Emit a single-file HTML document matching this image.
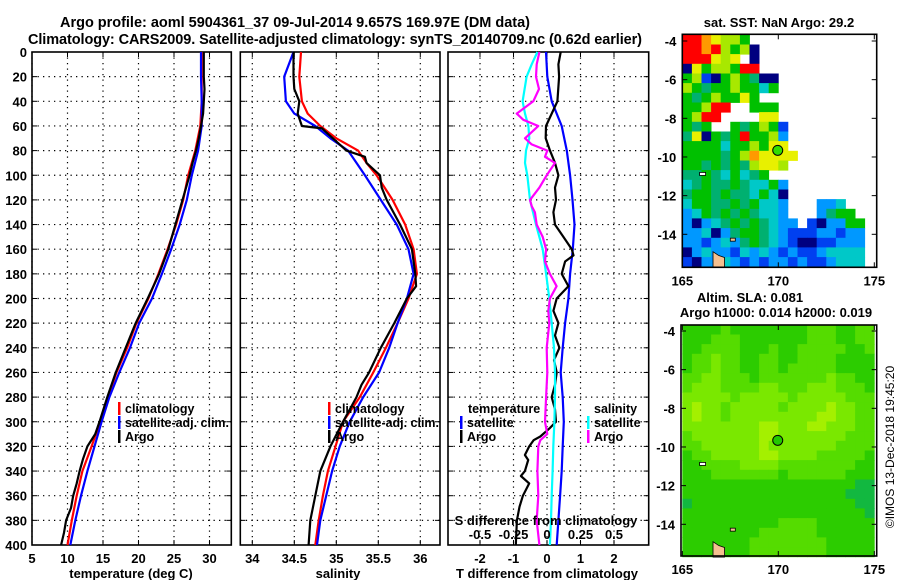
<!DOCTYPE html>
<html><head><meta charset="utf-8"><style>
html,body{margin:0;padding:0;background:#fff;}
svg{display:block;font-family:"Liberation Sans",sans-serif;font-weight:bold;}
</style></head><body>
<svg id="fig" width="900" height="580" viewBox="0 0 900 580" xmlns="http://www.w3.org/2000/svg">
<text x="295" y="27" font-size="14.5" text-anchor="middle" textLength="470">Argo profile: aoml 5904361_37 09-Jul-2014 9.657S 169.97E (DM data)</text>
<text x="335" y="44" font-size="14.5" text-anchor="middle" textLength="614">Climatology: CARS2009. Satellite-adjusted climatology: synTS_20140709.nc (0.62d earlier)</text>
<g id="root"></g>
</svg>
<script>
// ---- data ----
const depthClim=[0,20,40,60,80,100,120,140,160,180,200,220,240,260,280,300,320,340,360,380,400];
const climT=[28.9,28.9,28.9,28.7,28.0,27.0,26.3,25.3,24.1,22.8,21.4,19.7,18.4,16.9,15.7,14.6,13.4,12.1,11.3,10.6,10.0];
const satT=[28.8,28.8,28.9,28.9,28.4,27.5,26.8,25.8,24.6,23.3,21.9,20.1,18.8,17.3,15.9,14.8,13.8,12.8,11.9,11.1,10.4];
const depthArgoT=[0,10,20,30,40,50,60,70,80,90,100,120,140,160,180,200,220,240,260,280,300,310,320,330,340,350,360,370,380,390,400];
const argoT=[29.2,29.2,29.2,29.3,29.2,29.1,28.8,28.5,28.1,27.6,27.2,26.2,25.2,24.2,22.9,21.3,19.6,18.2,16.8,15.6,14.5,13.9,12.8,12.2,11.7,11.3,10.8,10.5,9.8,9.5,9.1];
const depthSal=[0,20,40,50,60,70,80,90,100,120,140,160,180,200,220,240,260,280,300,320,340,360,380,400];
const climS=[34.58,34.56,34.59,34.66,34.81,35.0,35.26,35.36,35.48,35.67,35.82,35.92,35.96,35.86,35.73,35.59,35.44,35.28,35.08,34.99,34.90,34.84,34.79,34.75];
const satS=[34.49,34.38,34.4,34.5,34.75,34.93,35.14,35.24,35.34,35.53,35.72,35.86,35.92,35.84,35.73,35.63,35.51,35.32,35.16,35.04,34.95,34.88,34.81,34.77];
const depthArgoS=[0,20,30,40,50,60,62,70,80,85,90,100,110,120,140,160,180,190,200,220,240,260,270,280,300,320,340,360,380,400];
const argoS=[34.49,34.49,34.5,34.56,34.54,34.59,34.83,34.96,35.12,35.34,35.36,35.52,35.54,35.6,35.76,35.9,35.94,35.95,35.84,35.69,35.53,35.39,35.3,35.24,35.08,34.93,34.81,34.75,34.69,34.67];
const depthSatTd=[0,20,40,60,80,100,120,140,160,180,200,220,240,260,280,300,320,340,360,380,400];
const satTdiff=[-0.03,0.01,0.14,0.44,0.59,0.69,0.76,0.82,0.77,0.69,0.64,0.54,0.47,0.41,0.47,0.5,0.47,0.44,0.39,0.34,0.29];
const depthArgoTd=[0,10,20,40,50,60,70,80,90,100,110,120,130,140,150,160,165,170,180,190,200,210,220,230,240,250,260,270,280,290,300,305,312,315,320,327,331,340,344,350,360,369,380,400];
const argoTdiff=[0.41,0.34,0.36,0.31,0.14,-0.03,-0.04,0.09,0.24,0.34,0.24,0.27,0.19,0.24,0.49,0.74,0.79,0.54,0.44,0.64,0.29,0.19,0.34,0.24,0.37,0.21,0.29,0.24,0.14,0.24,0.27,0.09,-0.2,-0.4,-0.53,-0.66,-0.56,-0.66,-0.78,-0.53,-0.72,-0.82,-0.9,-0.93];
const depthSatSd=[0,10,20,40,50,60,70,80,90,100,120,140,160,180,200,220,240,260,280,300,320,340,360,380,400];
const satSdiff=[-0.072,-0.114,-0.152,-0.182,-0.164,-0.139,-0.132,-0.157,-0.164,-0.147,-0.127,-0.082,-0.032,-0.007,0.017,0.035,0.052,0.06,0.06,0.055,0.047,0.042,0.035,0.03,0.022];
const depthArgoSd=[0,10,20,30,40,50,55,60,70,75,80,85,90,100,110,120,125,130,140,150,160,170,180,190,195,200,210,220,240,260,280,300,310,315,320,340,360,380,400];
const argoSdiff=[-0.057,-0.077,-0.082,-0.06,-0.102,-0.226,-0.177,-0.065,-0.164,-0.114,0.002,-0.015,0.06,-0.002,-0.057,-0.127,-0.114,-0.09,-0.077,-0.032,-0.007,-0.015,0.022,0.072,0.047,0.022,0.01,0.017,-0.002,0.002,-0.007,-0.015,0.002,-0.05,-0.065,-0.072,-0.065,-0.077,-0.057];
const depthTicks=[0,20,40,60,80,100,120,140,160,180,200,220,240,260,280,300,320,340,360,380,400];
const tTicks=[5,10,15,20,25,30];
const sTicks=[34,34.5,35,35.5,36];
const dTicks=[-2,-1,0,1,2];
const sdTicks=[-0.5,-0.25,0,0.25,0.5];
const latTicks=[-4,-6,-8,-10,-12,-14];
const lonTicks=[165,170,175];
const argoLon=169.97, argoLat=-9.657;
const sstRows=["RROYLLG.............","RRORLGLN............","RRRYLY.N............","NYGLLGRR............","GLDNGLGTNN..........","LGTGGLGGCG..........","GTGLGGYG............","GGLRR..GGG..........","GLRR....YY..........","GTG..GTGLGD.........","TYNGTGRGGLB.........","GGGGCGGLGYY.........","GGGGTGLOYYYY........","GGTGTGTLYYL.........","TTGTCGCTG...........","CTGTTGTCCGB.........","TGGTGTTCGCN.........","CGGTTGTGCCB...BBC...","BCGTGTGTCCB...BTGG..","BNBCTGTGTCBB.DNBBGG.","BBCNBTGGTCBDDDBBDBB.","BBDBCBTGTCBDNNDDBBB.","NBCBBDCBCBDBDDBCCCC.","DNBBCBDBDBBDBDDBCCC."];
const slaRows=["11112111111112221122","11122211111112221122","11222211121122222112","12232211221122221111","12232211221222221111","22332221222222232211","23332222332223332221","33333233333233333222","34332333332333343322","34332333333333443322","33333333443334433322","23333333443333333222","22333333433333332222","12233333443333222221","11222233332222222211","11122222221222222111","11111111111111111100","11111111111111111000","01111111111111111100","11111111111111111110","11111111112222111111","11111111222222111111","11111112222222211111","11111112222222211111"];
// ---- helpers ----
const NS="http://www.w3.org/2000/svg";
const root=document.getElementById('root');
function mk(tag,attrs,parent){const e=document.createElementNS(NS,tag);for(const k in attrs)e.setAttribute(k,attrs[k]);(parent||root).appendChild(e);return e;}
function txt(x,y,s,size,anchor,parent){const e=mk('text',{x:x,y:y,'font-size':size,'text-anchor':anchor||'middle'},parent);e.textContent=s;return e;}
const Y0=52,Y1=545;
function yD(d){return Y0+d*(Y1-Y0)/400;}
function panelFrame(x0,x1,xTicks,xfn,labels,name){
  const g=mk('g',{});
  
  
  depthTicks.forEach(d=>{const y=yD(d);
    if(d>0&&d<400){mk('line',{x1:x0,x2:x1,y1:y,y2:y,stroke:'#000','stroke-width':1.2,'stroke-dasharray':'1.3,4.2'},g);}
    mk('line',{x1:x0,x2:x0+5,y1:y,y2:y,stroke:'#000','stroke-width':1},g);
    mk('line',{x1:x1-5,x2:x1,y1:y,y2:y,stroke:'#000','stroke-width':1},g);});
  xTicks.forEach(v=>{const x=xfn(v);
    mk('line',{x1:x,x2:x,y1:Y0,y2:Y1,stroke:'#000','stroke-width':1.2,'stroke-dasharray':'1.3,4.2'},g);
    mk('line',{x1:x,x2:x,y1:Y1-5,y2:Y1,stroke:'#000','stroke-width':1},g);
    mk('line',{x1:x,x2:x,y1:Y0,y2:Y0+5,stroke:'#000','stroke-width':1},g);
    if(labels){const t=txt(x,563,String(v),13,'middle',g);
    
    }});
  mk('rect',{x:x0,y:Y0,width:x1-x0,height:Y1-Y0,fill:'none',stroke:'#000','stroke-width':1.6},g);
  return g;
}
function series(ds,vs,xfn,color,w,name){
  const pts=ds.map((d,i)=>xfn(vs[i]).toFixed(1)+','+yD(d).toFixed(1)).join(' ');
  const p=mk('polyline',{points:pts,fill:'none',stroke:color,'stroke-width':w,'stroke-linejoin':'round'});
  
  
  return p;
}
function legendEntry(x,y,color,label,name,len){
  const g=mk('g',{});
  
  
  mk('rect',{x:x,y:y-11,width:2.5,height:13,fill:color},g);
  const t=txt(x+7,y,label,12.5,'start',g);
  if(len){t.setAttribute('textLength',len);t.setAttribute('lengthAdjust','spacingAndGlyphs');}
}
// ---- panel 1: temperature ----
const xT=v=>32+(v-5)*7.1;
panelFrame(32,231.3,tTicks,xT,true,'temperature-panel');
depthTicks.forEach(d=>{const t=txt(27,yD(d)+5,String(d),13,'end');

});
series(depthClim,climT,xT,'#f00',2.2,'climatology-temperature-line');
series(depthClim,satT,xT,'#00f',2.2,'satellite-temperature-line');
series(depthArgoT,argoT,xT,'#000',2.2,'argo-temperature-line');
legendEntry(118,413,'#f00','climatology','legend-climatology-t');
legendEntry(118,427,'#00f','satellite-adj. clim.','legend-satellite-t',104);
legendEntry(118,441,'#000','Argo','legend-argo-t');
let t1=txt(131,578,'temperature (deg C)',13);


// ---- panel 2: salinity ----
const xS=v=>252.3+(v-34)*84;
panelFrame(240.3,440,sTicks,xS,true,'salinity-panel');
series(depthSal,climS,xS,'#f00',2.2,'climatology-salinity-line');
series(depthSal,satS,xS,'#00f',2.2,'satellite-salinity-line');
series(depthArgoS,argoS,xS,'#000',2.2,'argo-salinity-line');
legendEntry(328,413,'#f00','climatology','legend-climatology-s');
legendEntry(328,427,'#00f','satellite-adj. clim.','legend-satellite-s',104);
legendEntry(328,441,'#000','Argo','legend-argo-s');
let t2=txt(338,578,'salinity',13);


// ---- panel 3: differences ----
const xD=v=>547+v*33.5;
const xSD=v=>547+v*4*33.5;
panelFrame(448,648.7,dTicks,xD,true,'difference-panel');
series(depthSatTd,satTdiff,xD,'#00f',2.2,'satellite-t-difference-line');
series(depthArgoTd,argoTdiff,xD,'#000',2.2,'argo-t-difference-line');
series(depthSatSd,satSdiff,xSD,'#0ff',2.2,'satellite-s-difference-line');
series(depthArgoSd,argoSdiff,xSD,'#f0f',2.2,'argo-s-difference-line');
let lt=txt(468,413,'temperature',12.5,'start');


legendEntry(460,427,'#00f','satellite','legend-satellite-tdiff');
legendEntry(460,441,'#000','Argo','legend-argo-tdiff');
let ls=txt(594,413,'salinity',12.5,'start');


legendEntry(587,427,'#0ff','satellite','legend-satellite-sdiff');
legendEntry(587,441,'#f0f','Argo','legend-argo-sdiff');
let sdt=txt(546,525,'S difference from climatology',13);


sdTicks.forEach(v=>{const t=txt(xSD(v),539,String(v),13);

});
let t3=txt(547,578,'T difference from climatology',13);


// ---- maps ----
function mapBox(bx0,by0,bx1,by1,rows,colors,name,lon0x,lat4y){
  const g=mk('g',{});
  
  
  const lx=l=>lon0x+(l-165)*19.2, ly=l=>lat4y+(-4-l)*19.33;
  const cw=0.5*19.2, ch=0.5*19.33;
  const top=ly(-3.68);
  rows.forEach((r,i)=>{for(let j=0;j<r.length;j++){const c=colors[r[j]];if(!c)continue;
    mk('rect',{x:(lon0x+j*cw).toFixed(1),y:(top+i*ch).toFixed(1),width:(cw+0.4).toFixed(1),height:(ch+0.4).toFixed(1),fill:c},g);}});
  latTicks.forEach(l=>{const y=ly(l);
    mk('line',{x1:bx0,x2:bx0+5,y1:y,y2:y,stroke:'#000'},g);mk('line',{x1:bx1-5,x2:bx1,y1:y,y2:y,stroke:'#000'},g);
    const t=txt(bx0-6,y+5,String(l),13,'end',g);
    
    });
  lonTicks.forEach(l=>{const x=lx(l);
    mk('line',{x1:x,x2:x,y1:by0,y2:by0+5,stroke:'#000'},g);mk('line',{x1:x,x2:x,y1:by1-5,y2:by1,stroke:'#000'},g);
    const t=txt(x,by1+18,String(l),13,'middle',g);
    
    });
  // land bits
  mk('path',{d:`M${lx(166.6)},${ly(-15.7)} L${lx(166.6)},${ly(-14.9)} L${lx(166.9)},${ly(-15.1)} L${lx(167.2)},${ly(-15.2)} L${lx(167.2)},${ly(-15.7)} Z`,fill:'#f4c090',stroke:'#000','stroke-width':0.8},g);
  mk('rect',{x:lx(167.5),y:ly(-14.2),width:5,height:3,fill:'#f4c090',stroke:'#000','stroke-width':0.8},g);
  mk('rect',{x:lx(165.9),y:ly(-10.8),width:6,height:3,fill:'#fff',stroke:'#000','stroke-width':0.8},g);
  const ac=mk('circle',{cx:lx(argoLon),cy:ly(argoLat),r:5,fill:colors.argo,stroke:'#000','stroke-width':1},g);
  
  
  mk('rect',{x:bx0,y:by0,width:bx1-bx0,height:by1-by0,fill:'none',stroke:'#000','stroke-width':1.6},g);
}
mapBox(682.3,34.3,876.7,267.3,sstRows,{R:'#ff0000',O:'#ff9900',Y:'#e8f000',L:'#a8e800',G:'#00c000',T:'#00b070',C:'#00c8c8',B:'#0098ff',D:'#0040f0',N:'#000080',argo:'#33dd00'},'sst-map',682.3,41);
mapBox(681,325,876.7,556,slaRows,{'0':'#12b840','1':'#2ccc00','2':'#55dc00','3':'#7ae800','4':'#a4f000',argo:'#22c800'},'sla-map',682.3,331);
let m1=txt(779,27,'sat. SST: NaN Argo: 29.2',13);


let m2=txt(750,302,'Altim. SLA: 0.081',13);


let m3=txt(776,317,'Argo h1000: 0.014 h2000: 0.019',13);


let cr=mk('text',{x:0,y:0,'font-size':12,'font-weight':'normal','text-anchor':'middle',transform:'translate(894,447) rotate(-90)'});
cr.textContent='©IMOS 13-Dec-2018 19:45:20';


</script>
</body></html>
